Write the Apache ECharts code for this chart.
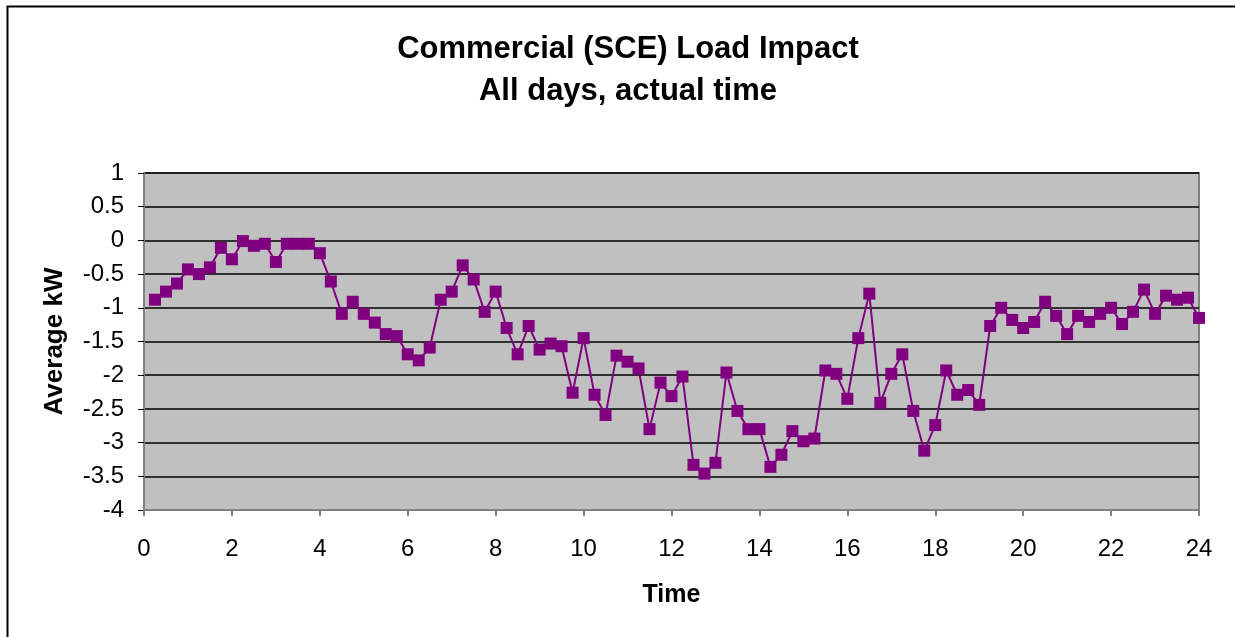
<!DOCTYPE html>
<html>
<head>
<meta charset="utf-8">
<script src="https://cdn.jsdelivr.net/npm/echarts@6/dist/echarts.min.js"></script>
<style>
  html, body { margin: 0; padding: 0; background: #fff; overflow: hidden; }
  #main { width: 1235px; height: 637px; }
</style>
</head>
<body>
<div id="main"></div>
<script>
// 数据: 每15分钟一个点
var hours = [];
for (var i = 1; i <= 96; i++) { hours.push(i * 0.25); }

var loadKw = [
  -0.88, -0.76, -0.64, -0.43, -0.50, -0.40, -0.11, -0.28, -0.01, -0.08, -0.05, -0.32,
  -0.05, -0.05, -0.05, -0.19, -0.61, -1.09, -0.91, -1.09, -1.22, -1.39, -1.42, -1.69,
  -1.78, -1.59, -0.88, -0.76, -0.37, -0.58, -1.06, -0.76, -1.30, -1.69, -1.27, -1.62,
  -1.53, -1.57, -2.26, -1.45, -2.29, -2.59, -1.71, -1.80, -1.90, -2.80, -2.11, -2.31,
  -2.02, -3.33, -3.46, -3.30, -1.96, -2.53, -2.80, -2.80, -3.36, -3.18, -2.83, -2.98,
  -2.94, -1.93, -1.98, -2.35, -1.45, -0.79, -2.41, -1.98, -1.69, -2.53, -3.12, -2.74,
  -1.93, -2.29, -2.22, -2.44, -1.27, -1.00, -1.18, -1.30, -1.21, -0.91, -1.12, -1.39,
  -1.12, -1.21, -1.09, -1.00, -1.24, -1.06, -0.73, -1.09, -0.82, -0.88, -0.85, -1.15
];

var seriesData = hours.map(function (h, i) { return [h, loadKw[i]]; });

var myChart = echarts.init(document.getElementById('main'));
var font = 'Liberation Sans, Arial, sans-serif';

var option = {
    animation: false,
    backgroundColor: '#fff',
    title: {
        text: 'Commercial (SCE) Load Impact\nAll days, actual time',
        left: 623,
        top: 23,
        textAlign: 'center',
        textStyle: {
            fontFamily: font,
            fontSize: 31,
            fontWeight: 'bold',
            color: '#000',
            lineHeight: 42
        }
    },
    // 外框 (右边和下边在画面之外)
    graphic: [{
        type: 'rect',
        shape: { x: 7.5, y: 6.5, width: 1300, height: 700 },
        style: { fill: 'none', stroke: '#000', lineWidth: 2 }
    }],
    grid: {
        left: 144,
        top: 173,
        width: 1055,
        height: 337,
        show: true,
        backgroundColor: '#c0c0c0',
        borderColor: '#808080',
        borderWidth: 2
    },
    xAxis: {
        type: 'value',
        min: 0,
        max: 24,
        interval: 2,
        name: 'Time',
        nameLocation: 'middle',
        nameGap: 73,
        nameTextStyle: { fontFamily: font, fontSize: 25, fontWeight: 'bold', color: '#000' },
        axisLine: { show: true, onZero: false, lineStyle: { color: '#808080', width: 2 } },
        axisTick: { show: true, length: 6, lineStyle: { color: '#808080', width: 2 } },
        axisLabel: { fontFamily: font, fontSize: 24, color: '#000', margin: 27 },
        splitLine: { show: false }
    },
    yAxis: {
        type: 'value',
        min: -4,
        max: 1,
        interval: 0.5,
        name: 'Average kW',
        nameLocation: 'middle',
        nameGap: 76,
        nameTextStyle: { fontFamily: font, fontSize: 26, fontWeight: 'bold', color: '#000' },
        axisLine: { show: true, onZero: false, lineStyle: { color: '#808080', width: 2 } },
        axisTick: { show: true, length: 6, lineStyle: { color: '#000', width: 1 } },
        axisLabel: { fontFamily: font, fontSize: 24, color: '#000', margin: 20 },
        splitLine: { show: true, lineStyle: { color: '#000', width: 1.5 } }
    },
    series: [{
        name: 'Load Impact',
        type: 'line',
        data: seriesData,
        symbol: 'rect',
        symbolSize: 12,
        itemStyle: { color: '#800080' },
        lineStyle: { color: '#800080', width: 2 }
    }]
};

myChart.setOption(option);
</script>
</body>
</html>
